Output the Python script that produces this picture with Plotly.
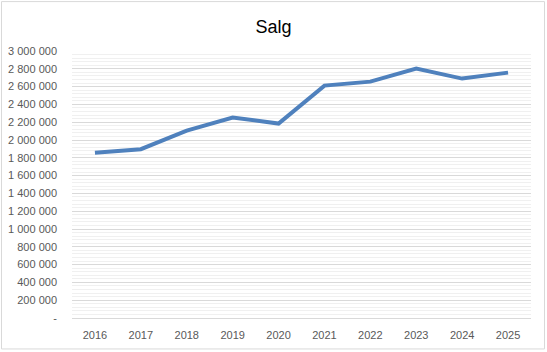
import plotly.graph_objects as go

years = ["2016", "2017", "2018", "2019", "2020", "2021", "2022", "2023", "2024", "2025"]
sales = [1856000, 1897000, 2106000, 2252000, 2185000, 2611000, 2656000, 2802000, 2690000, 2757000]
y_ticks = list(range(0, 3000001, 200000))

def fmt(v):
    if v == 0:
        return "-"
    return f"{v:,}".replace(",", " ")

y_text = [fmt(v) for v in y_ticks]

W, H = 547, 352
L, R, T, B = 72, 531, 51, 318.5

fig = go.Figure()
fig.add_trace(go.Scatter(
    x=years, y=sales, mode="lines",
    line=dict(color="#4F81BD", width=4),
    hoverinfo="x+y",
))

def px_x(p):
    return (p - L) / (R - L)

def px_y(p):
    return (B - p) / (B - T)

fig.add_shape(type="rect", xref="paper", yref="paper",
              x0=px_x(1.5), x1=px_x(544.5), y0=px_y(349.5), y1=px_y(1.5),
              line=dict(color="#d9d9d9", width=1), layer="below")

fig.update_layout(
    width=W, height=H,
    margin=dict(l=L, r=W - R, t=T, b=H - B, pad=0, autoexpand=False),
    paper_bgcolor="white", plot_bgcolor="white",
    showlegend=False,
    title=dict(text="Salg", x=0.5, xanchor="center", y=1 - 27 / H, yanchor="middle",
               font=dict(family="Liberation Sans, Arial, sans-serif", size=18, color="#000000")),
    font=dict(family="Liberation Sans, Arial, sans-serif", size=11, color="#595959"),
)

fig.update_xaxes(
    type="category", range=[-0.5, 9.5], automargin=False,
    showgrid=False, showline=False, zeroline=False,
    ticks="", tickfont=dict(size=11, color="#595959"),
    ticklabelstandoff=9,
)

fig.update_yaxes(
    range=[0, 3000000], automargin=False,
    tickvals=y_ticks, ticktext=y_text,
    showgrid=True, gridcolor="#d9d9d9", gridwidth=1,
    zeroline=True, zerolinecolor="#d9d9d9", zerolinewidth=1,
    showline=False, ticks="",
    tickfont=dict(size=11, color="#595959"),
    ticklabelstandoff=14,
    minor=dict(dtick=40000, tick0=0, showgrid=True, gridcolor="#f0f0f0", gridwidth=1),
)

fig.write_html("out.html")
